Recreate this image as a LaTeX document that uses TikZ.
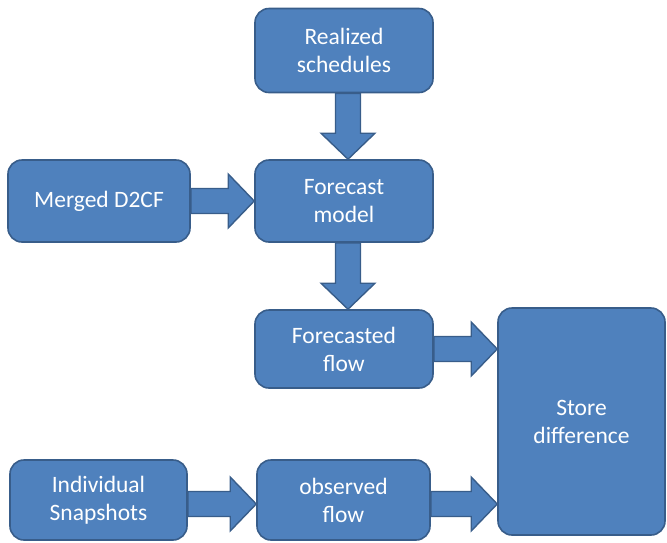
\documentclass[tikz,border=0pt]{standalone}
\usepackage{fontspec}
\setmainfont{Carlito}
\usetikzlibrary{calc}

\definecolor{boxfill}{HTML}{4F81BD}
\definecolor{boxline}{HTML}{385D8A}

\tikzset{
  block/.style={draw=boxline, fill=boxfill, line width=1.6pt,
    rounded corners=14pt, text=white, align=center, inner sep=0pt,
    font=\fontsize{23.5}{28}\selectfont},
  flowarrow/.style={draw=boxline, fill=boxfill, line width=1.4pt, line join=miter}
}

% block arrow pointing right, from #1 to the x of #2
\newcommand\harrow[2]{%
  \path[flowarrow] let \p1=(#1), \p2=(#2) in
    (\x1,\y1-12.5pt) -- (\x2-26pt,\y1-12.5pt) -- (\x2-26pt,\y1-27pt) --
    (\x2,\y1) -- (\x2-26pt,\y1+27pt) -- (\x2-26pt,\y1+12.5pt) --
    (\x1,\y1+12.5pt) -- cycle;}
% block arrow pointing down, from #1 to the y of #2
\newcommand\varrow[2]{%
  \path[flowarrow] let \p1=(#1), \p2=(#2) in
    (\x1-12.5pt,\y1) -- (\x1-12.5pt,\y2+26pt) -- (\x1-27pt,\y2+26pt) --
    (\x1,\y2) -- (\x1+27pt,\y2+26pt) -- (\x1+12.5pt,\y2+26pt) --
    (\x1+12.5pt,\y1) -- cycle;}

\begin{document}
\begin{tikzpicture}[x=1pt,y=-1pt]
  \useasboundingbox (0,0) rectangle (667,542);

  \node[block, minimum width=178pt, minimum height=84pt] (real)     at (344,50.5)  {Realized\\schedules};
  \node[block, minimum width=182pt, minimum height=82pt] (merged)   at (99,201)    {Merged D2CF};
  \node[block, minimum width=178pt, minimum height=82pt] (forecast) at (344,201)   {Forecast\\model};
  \node[block, minimum width=178pt, minimum height=78pt] (fflow)    at (344,349)   {Forecasted\\flow};
  \node[block, minimum width=167pt, minimum height=227pt] (store)   at (581.5,421.5) {Store\\difference};
  \node[block, minimum width=177pt, minimum height=80pt] (indiv)    at (98.5,500)  {Individual\\Snapshots};
  \node[block, minimum width=173pt, minimum height=80pt] (obs)      at (343.5,500) {observed\\flow};

  \coordinate (a1) at ($(real.south)+(4,0)$);
  \coordinate (a2) at ($(forecast.south)+(4,0)$);
  \coordinate (a3) at ($(indiv.east)+(0,4)$);
  \coordinate (a4) at ($(obs.east)+(0,4)$);

  \varrow{a1}{forecast.north}
  \varrow{a2}{fflow.north}
  \harrow{merged.east}{forecast.west}
  \harrow{fflow.east}{store.west}
  \harrow{a3}{obs.west}
  \harrow{a4}{store.west}
\end{tikzpicture}
\end{document}
